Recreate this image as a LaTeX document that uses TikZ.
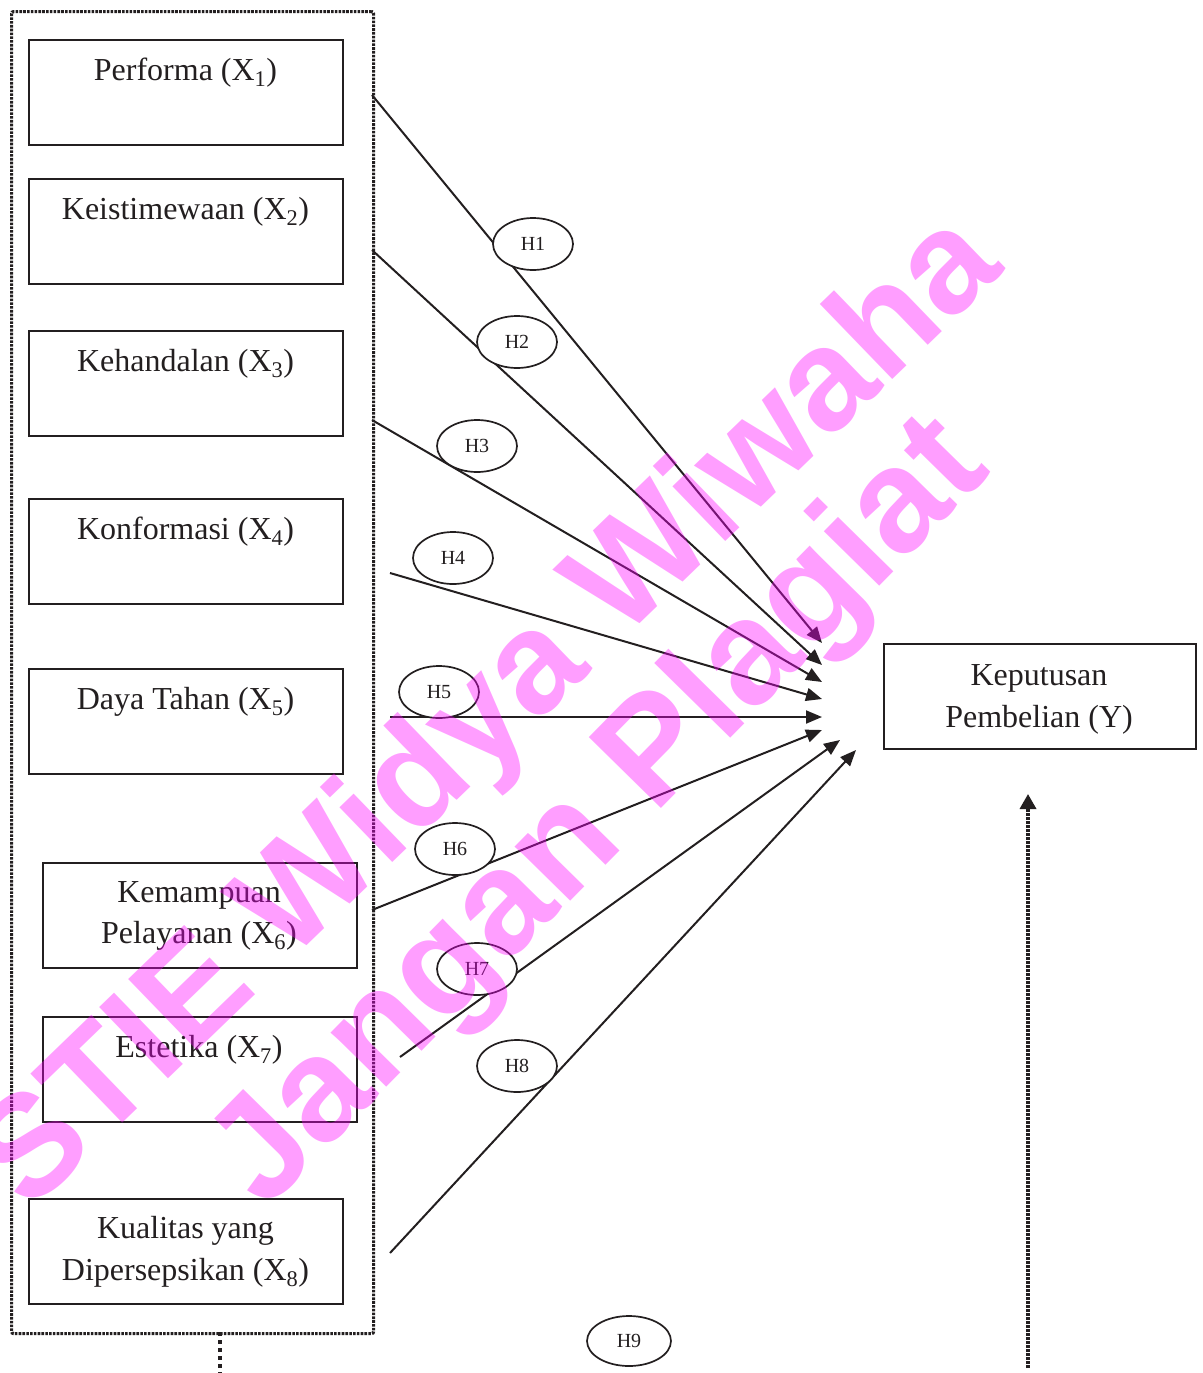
\documentclass[tikz,border=0pt]{standalone}
\usepackage{fontspec}
\setmainfont{Liberation Serif}
\newfontfamily\wmfont{Liberation Sans}
\usetikzlibrary{arrows.meta,shapes.geometric}
\definecolor{wmpink}{RGB}{255,0,255}
\definecolor{ink}{RGB}{35,31,32}
\begin{document}
\begin{tikzpicture}[x=1pt,y=-1pt,
  box/.style={draw=ink, line width=1.8pt, minimum width=314pt, minimum height=105pt, inner sep=0pt, anchor=north west},
  txt/.style={text=ink, font=\fontsize{32}{38}\selectfont, anchor=base, inner sep=0pt},
  hyp/.style={draw=ink, ellipse, fill=white, line width=1.7pt, minimum width=80pt, minimum height=52pt, inner sep=0pt, text=ink, font=\fontsize{20}{24}\selectfont},
  arr/.style={draw=ink, line width=2pt, -{Triangle[length=16pt,width=13pt]}},
  grpline/.style={draw=ink, line width=3.2pt, dash pattern=on 2.6pt off 1.2pt},
  wm/.style={font=\wmfont\bfseries, text=wmpink, text opacity=0.38, inner sep=0pt}
]
\useasboundingbox (0,0) rectangle (1202,1373);

% group frame
\node[grpline, minimum width=362pt, minimum height=1322pt, inner sep=0pt, anchor=north west, rounded corners=2pt] (grp) at (10,10) {};
\coordinate (gb) at (220,1332);
\coordinate (ge) at (220,1373);
\draw[draw=ink, line width=3.8pt, dash pattern=on 3.8pt off 4.2pt] (gb) -- (ge);

% boxes
\node[box] (x1) at (28,39) {};
\node[box] (x2) at (28,178) {};
\node[box] (x3) at (28,330) {};
\node[box] (x4) at (28,498) {};
\node[box] (x5) at (28,668) {};
\node[box] (x6) at (42,862) {};
\node[box] (x7) at (42,1016) {};
\node[box] (x8) at (28,1198) {};
\node[box, minimum width=312pt] (y) at (883,643) {};

\node[txt] (tx1) at (185.5,80) {Performa (X\textsubscript{1})};
\node[txt] (tx2) at (185.5,219) {Keistimewaan (X\textsubscript{2})};
\node[txt] (tx3) at (185.5,371) {Kehandalan (X\textsubscript{3})};
\node[txt] (tx4) at (185.5,539) {Konformasi (X\textsubscript{4})};
\node[txt] (tx5) at (185.5,709) {Daya Tahan (X\textsubscript{5})};
\node[txt] (tx6a) at (199,902) {Kemampuan};
\node[txt] (tx6b) at (199,943) {Pelayanan (X\textsubscript{6})};
\node[txt] (tx7) at (199,1057) {Estetika (X\textsubscript{7})};
\node[txt] (tx8a) at (185.5,1238) {Kualitas yang};
\node[txt] (tx8b) at (185.5,1280) {Dipersepsikan (X\textsubscript{8})};
\node[txt] (tya) at (1039,685) {Keputusan};
\node[txt] (tyb) at (1039,727) {Pembelian (Y)};

% connector ends
\coordinate (s1) at (372,95);   \coordinate (t1) at (822,643);
\coordinate (s2) at (372,250);  \coordinate (t2) at (822,665);
\coordinate (s3) at (372,420);  \coordinate (t3) at (822,682);
\coordinate (s4) at (390,573);  \coordinate (t4) at (822,699);
\coordinate (s5) at (390,717);  \coordinate (t5) at (822,717);
\coordinate (s6) at (372,910);  \coordinate (t6) at (822,730);
\coordinate (s7) at (400,1057); \coordinate (t7) at (840,740);
\coordinate (s8) at (390,1253); \coordinate (t8) at (856,750);
\coordinate (s9) at (1028,1368); \coordinate (t9) at (1028,794);

\draw[arr] (s1) -- (t1);
\draw[arr] (s2) -- (t2);
\draw[arr] (s3) -- (t3);
\draw[arr] (s4) -- (t4);
\draw[arr] (s5) -- (t5);
\draw[arr] (s6) -- (t6);
\draw[arr] (s7) -- (t7);
\draw[arr] (s8) -- (t8);
\draw[draw=ink, line width=3.4pt, dash pattern=on 2.6pt off 1.4pt, -{Triangle[length=15pt,width=16pt]}] (s9) -- (t9);

% hypotheses
\node[hyp] (h1) at (533,244) {H1};
\node[hyp] (h2) at (517,342) {H2};
\node[hyp] (h3) at (477,446) {H3};
\node[hyp] (h4) at (453,558) {H4};
\node[hyp] (h5) at (439,692) {H5};
\node[hyp] (h6) at (455,849) {H6};
\node[hyp] (h7) at (477,969) {H7};
\node[hyp] (h8) at (517,1066) {H8};
\node[hyp, minimum width=84pt, minimum height=50pt] (h9) at (629,1341) {H9};

% watermark
\node[wm, rotate=44, font=\wmfont\bfseries\fontsize{144}{144}\selectfont] (wm1) at (492,715) {STIE Widya Wiwaha};
\node[wm, rotate=45.5, font=\wmfont\bfseries\fontsize{147}{147}\selectfont] (wm2) at (602,815) {Jangan Plagiat};
\end{tikzpicture}
\end{document}
